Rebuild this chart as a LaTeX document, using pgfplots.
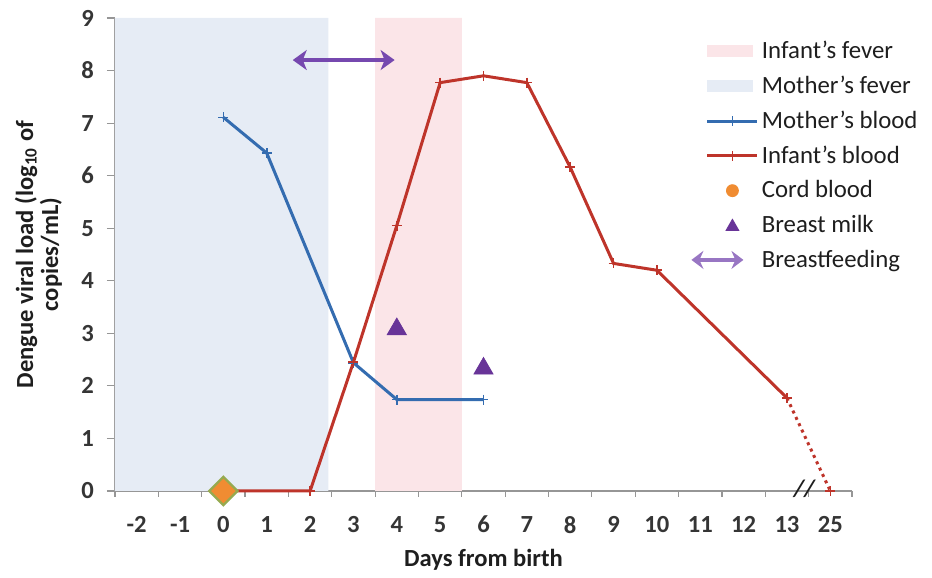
\documentclass[border=0pt]{standalone}
\usepackage{pgfplots}
\pgfplotsset{compat=1.18}
\usepackage{fontspec}
\setmainfont{Carlito}
\usetikzlibrary{arrows.meta,calc}
\definecolor{mblue}{RGB}{52,108,176}
\definecolor{ired}{RGB}{190,52,42}
\definecolor{bshade}{RGB}{230,236,245}
\definecolor{pshade}{RGB}{251,229,232}
\definecolor{apurple}{RGB}{118,72,175}
\definecolor{tpurple}{RGB}{104,52,152}
\definecolor{cordor}{RGB}{240,140,50}
\definecolor{cordgr}{RGB}{150,170,80}
\definecolor{axgray}{RGB}{150,150,150}
\definecolor{txt}{RGB}{30,30,30}
\pgfplotsset{
  rectleg/.style={legend image code/.code={\fill[##1] (0pt,-3pt) rectangle (23pt,3pt);}},
  lineleg/.style={legend image code/.code={\draw[mark repeat=2,mark phase=2,##1] plot coordinates {(0pt,0pt) (12.5pt,0pt) (25pt,0pt)};}},
}
\begin{document}
\begin{tikzpicture}
\begin{axis}[
  scale only axis, width=368.5pt, height=236.5pt,
  xmin=-0.5, xmax=16.5, ymin=0, ymax=9,
  axis lines*=left,
  axis line style={axgray, line width=0.7pt},
  tick align=outside,
  xtick={0,...,16},
  xticklabels={-2,-1,0,1,2,3,4,5,6,7,8,9,10,11,12,13,25},
  minor xtick={-0.5,0.5,...,16.5},
  major x tick style={draw=none},
  minor x tick style={axgray, line width=0.6pt},
  minor tick length=3pt,
  ytick={0,...,9},
  major y tick style={axgray, line width=0.6pt},
  major tick length=4pt,
  /pgf/number format/assume math mode=true,
  ticklabel style={font=\fontsize{12.3}{14}\selectfont\bfseries, text=txt!90},
  xticklabel style={yshift=-5pt},
  yticklabel style={xshift=-3pt},
  every axis y label/.style={at={(axis description cs:-0.104,0.5)}, rotate=90, anchor=center, align=center, font=\fontsize{12.3}{12.5}\selectfont\bfseries, text=txt},
  every axis x label/.style={at={(axis description cs:0.5,0)}, yshift=-34.5pt, anchor=center, font=\fontsize{12.3}{14}\selectfont\bfseries, text=txt},
  ylabel={Dengue viral load (log\textsubscript{10} of\\copies/mL)},
  xlabel={Days from birth},
  legend style={at={(axis description cs:0.771,0.967)}, anchor=north west, draw=none, fill=none,
    font=\fontsize{12.4}{14}\selectfont, text=txt, row sep=4.2pt,
    nodes={inner sep=1.5pt}},
  legend cell align=left,
  clip=false,
]
% Infant's fever
\addplot[fill=pshade, draw=none, rectleg] coordinates {(5.5,0) (5.5,9) (7.5,9) (7.5,0)} \closedcycle;
\addlegendentry{Infant's fever}
% Mother's fever
\addplot[fill=bshade, draw=none, rectleg] coordinates {(-0.5,0) (-0.5,9) (4.42,9) (4.42,0)} \closedcycle;
\addlegendentry{Mother's fever}
% Mother's blood
\addplot[mblue, line width=1.5pt, mark=+, mark size=2.5pt, mark options={line width=0.8pt}, lineleg] coordinates {
 (2,7.11) (3,6.43) (5,2.44) (6,1.74) (8,1.74)};
\addlegendentry{Mother's blood}
% Infant's blood
\addplot[ired, line width=1.5pt, mark=+, mark size=2.5pt, mark options={line width=0.8pt}, lineleg] coordinates {
 (2,0) (4,0) (5,2.45) (6,5.05) (7,7.77) (8,7.9) (9,7.77) (10,6.16) (11,4.33) (12,4.2) (15,1.77)};
\addlegendentry{Infant's blood}
% Cord blood
\addplot[only marks, mark=square*, mark size=5pt, mark options={rotate=45, fill=cordor, draw=cordgr, line width=1.2pt},
  legend image code/.code={\fill[cordor] (12.5pt,0pt) circle (3pt);}] coordinates {(2,0)};
\addlegendentry{Cord blood}
% Breast milk
\addplot[only marks, mark=triangle*, mark size=5.5pt, color=tpurple,
  legend image code/.code={\fill[tpurple] (9.3pt,-2.6pt) -- (15.7pt,-2.6pt) -- (12.5pt,3pt) -- cycle;}] coordinates {(6,3.08) (8,2.33)};
\addlegendentry{Breast milk}
% Breastfeeding
\addplot[apurple, line width=2pt, {Stealth[length=7pt,width=10pt,inset=2pt]}-{Stealth[length=7pt,width=10pt,inset=2pt]},
  legend image code/.code={\draw[apurple!75, line width=1.8pt, {Stealth[length=6pt,width=9pt,inset=2pt]}-{Stealth[length=6pt,width=9pt,inset=2pt]}] (-8pt,0pt) -- (18pt,0pt);}] coordinates {(3.6,8.2) (5.95,8.2)};
\addlegendentry{Breastfeeding}
% dotted tail
\addplot[ired, line width=1.5pt, dotted, forget plot] coordinates {(15,1.77) (16,0)};
\addplot[ired, only marks, mark=+, mark size=2.5pt, mark options={line width=0.8pt}, forget plot] coordinates {(16,0)};
\node[font=\fontsize{12}{12}\selectfont\bfseries\itshape, text=txt, inner sep=0pt] at (axis cs:15.4,0.05) {//};
\coordinate (bl) at (rel axis cs:0,0);
\coordinate (tr) at (rel axis cs:1,1);
\end{axis}
\path (bl) ++(-57.5pt,-41pt) rectangle ($(tr)+(40pt,9pt)$);
\end{tikzpicture}
\end{document}
